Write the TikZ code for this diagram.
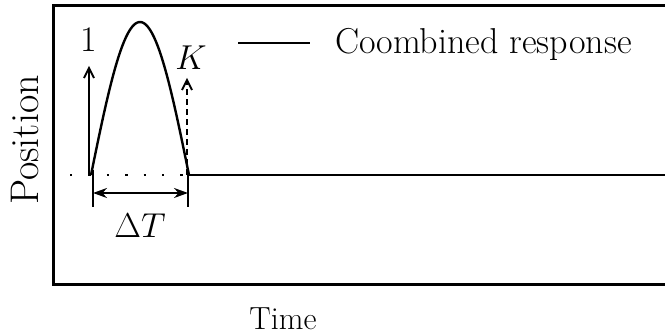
\documentclass[tikz,border=0pt]{standalone}
\usepackage{fontspec}
\usetikzlibrary{arrows.meta}
\begin{document}
\begin{tikzpicture}[x=0.5pt,y=-0.5pt,
  frameline/.style={line width=1.5pt,line cap=rect},
  curveline/.style={line width=1.2pt},
  thinline/.style={line width=0.7pt},
  txt/.style={inner sep=0pt,outer sep=0pt},
  uparrow/.style={line width=0.9pt,-{Straight Barb[length=5pt,width=5pt]}},
]
\useasboundingbox (0,0) rectangle (665,335);
% frame (open on the right)
\coordinate (tr) at (665,6);
\coordinate (tl) at (53,6);
\coordinate (bl) at (53,285);
\coordinate (br) at (665,285);
\draw[frameline] (tr) -- (tl) -- (bl) -- (br);
% baseline points
\coordinate (s) at (91,175);
\coordinate (e) at (189,175);
\coordinate (d0) at (70,175);
\coordinate (rend) at (665,175);
% dotted baseline
\draw[thinline,dash pattern=on 1.2pt off 8pt] (d0) -- (e);
% horizontal combined response after pulse
\draw[thinline] (e) -- (rend);
% pulse curve
\draw[curveline,domain=0:1,samples=60,smooth] plot ({91+98*\x},{175-153*sin(180*\x)});
% arrow 1
\coordinate (a1top) at (89,66);
\coordinate (a1bot) at (89,175);
\draw[uparrow] (a1bot) -- (a1top);
\node[txt] (one) at (89,40) {\fontsize{18}{20}\selectfont 1};
% dashed arrow K
\coordinate (kbot) at (187,175);
\coordinate (ktop) at (187,78);
\draw[uparrow,dash pattern=on 3pt off 2pt] (kbot) -- (ktop);
\node[txt] (K) at (191,58) {\fontsize{17}{20}\selectfont $K$};
% Delta T dimension
\coordinate (t1a) at (93,170);
\coordinate (t1b) at (93,207);
\coordinate (t2a) at (188,170);
\coordinate (t2b) at (188,207);
\draw[line width=0.9pt] (t1a) -- (t1b);
\draw[line width=0.9pt] (t2a) -- (t2b);
\draw[line width=0.9pt,{Stealth[length=7pt,width=5pt]}-{Stealth[length=7pt,width=5pt]}] (93,193) -- (188,193);
\node[txt] (dT) at (140,226) {\fontsize{19}{22}\selectfont $\Delta T$};
% legend
\coordinate (l1) at (238,43);
\coordinate (l2) at (310,43);
\draw[thinline] (l1) -- (l2);
\node[txt,anchor=west] (leg) at (335,44) {\fontsize{18}{21}\selectfont Coombined response};
% axis labels
\node[txt,rotate=90] (pos) at (25,140) {\fontsize{20}{23}\selectfont Position};
\node[txt] (time) at (283,319) {\fontsize{16}{19}\selectfont Time};
\end{tikzpicture}
\end{document}
